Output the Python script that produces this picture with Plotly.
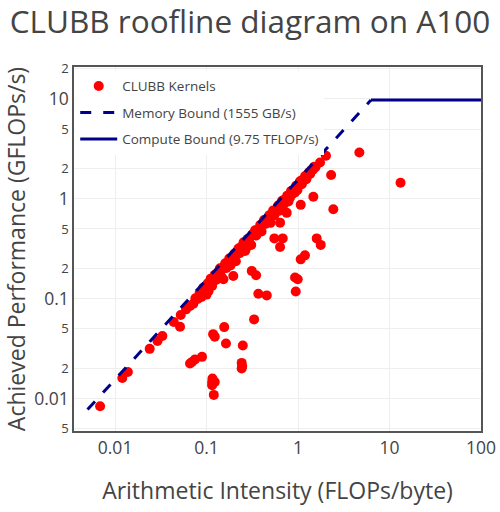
import plotly.graph_objects as go

# ---- data: kernel measurements (arithmetic intensity FLOPs/byte, performance) ----
kern_ai = [
    0.00686, 0.0120, 0.0138, 0.0239, 0.0291, 0.0329, 0.0438, 0.0513, 0.0522,
    0.0597, 0.066, 0.0717, 0.0755, 0.080, 0.084, 0.088, 0.092, 0.096, 0.100,
    0.103, 0.107, 0.111, 0.115, 0.119, 0.123, 0.127, 0.131, 0.136, 0.140,
    0.145, 0.150, 0.155, 0.160, 0.165, 0.171, 0.177, 0.183, 0.189, 0.195,
    0.202, 0.209, 0.216, 0.223, 0.230, 0.238, 0.246, 0.254, 0.262, 0.271,
    0.280, 0.289, 0.298, 0.308, 0.318, 0.328, 0.339, 0.350, 0.362, 0.374,
    0.386, 0.399, 0.412, 0.425, 0.439, 0.454, 0.469, 0.484, 0.500, 0.517,
    0.534, 0.551, 0.569, 0.588, 0.607, 0.627, 0.648, 0.669, 0.691, 0.714,
    0.737, 0.761, 0.786, 0.812, 0.838, 0.866, 0.894, 0.923, 0.953, 0.985,
    1.017, 1.050, 1.085, 1.120, 1.157, 1.195, 1.234, 1.275, 1.316, 1.360,
    1.404, 1.450, 1.500, 1.550,
    2.02, 1.74, 1.47, 1.35, 1.19, 1.10, 0.927, 0.818, 0.752,
    4.68, 2.30, 1.47, 1.07, 2.43, 0.752, 0.636, 0.551, 0.680, 0.636, 1.60,
    1.77, 1.07, 1.19, 0.312, 0.348, 0.927, 0.992, 0.368, 0.455, 0.944,
    0.331, 0.156, 0.123, 0.118, 0.163, 0.249, 0.066, 0.0693, 0.0748, 0.0892,
    0.242, 0.245, 0.242, 0.116, 0.115, 0.123, 0.115, 0.120, 13.2,
    0.264, 0.196, 0.153, 0.105, 0.268,
]
kern_perf = [
    0.00838, 0.0161, 0.01845, 0.0315, 0.0377, 0.0423, 0.0584, 0.0524, 0.0687,
    0.0783, 0.0845, 0.0891, 0.101, 0.0995, 0.115, 0.104, 0.129, 0.124, 0.110,
    0.143, 0.133, 0.159, 0.134, 0.159, 0.174, 0.154, 0.177, 0.173, 0.202,
    0.167, 0.205, 0.202, 0.226, 0.203, 0.229, 0.253, 0.216, 0.259, 0.252,
    0.283, 0.237, 0.292, 0.319, 0.286, 0.329, 0.321, 0.367, 0.314, 0.362,
    0.396, 0.364, 0.408, 0.345, 0.445, 0.434, 0.485, 0.430, 0.490, 0.483,
    0.546, 0.472, 0.564, 0.615, 0.560, 0.628, 0.620, 0.685, 0.575, 0.699,
    0.764, 0.685, 0.779, 0.768, 0.859, 0.760, 0.867, 0.957, 0.870, 0.988,
    0.974, 1.077, 0.941, 1.111, 1.199, 1.118, 1.237, 1.234, 1.349, 1.225,
    1.392, 1.502, 1.417, 1.550, 1.547, 1.691, 1.573, 1.745, 1.842, 1.798,
    1.943, 1.962, 2.099, 2.073,
    2.70, 2.31, 1.99, 1.77, 1.58, 1.40, 1.16, 1.03, 0.955,
    2.91, 1.73, 1.05, 0.871, 0.788, 0.724, 0.578, 0.402, 0.402, 0.330, 0.402,
    0.346, 0.248, 0.272, 0.190, 0.172, 0.163, 0.157, 0.112, 0.108, 0.118,
    0.0621, 0.0520, 0.0416, 0.0442, 0.0357, 0.0341, 0.0225, 0.0233, 0.0247, 0.0262,
    0.0228, 0.0211, 0.0200, 0.0159, 0.0147, 0.0147, 0.0136, 0.0109, 1.45,
    0.301, 0.169, 0.157, 0.119, 0.313,
]

# ---- roofline (A100): memory bound 1555 GB/s, compute bound 9.75 TFLOP/s ----
mem_ai = [0.005, 6.27]
mem_perf = [0.00778, 9.75]
comp_ai = [6.27, 100]
comp_perf = [9.75, 9.75]

FONT = "Open Sans"
TXT = "#444444"
NAVY = "#00008B"

fig = go.Figure()
fig.add_trace(go.Scatter(
    x=kern_ai, y=kern_perf, mode="markers", name="CLUBB Kernels",
    legendgroup="g1",
    marker=dict(color="#FF0000", size=10),
))
fig.add_trace(go.Scatter(
    x=mem_ai, y=mem_perf, mode="lines", name="Memory Bound (1555 GB/s)",
    legendgroup="g2",
    line=dict(color=NAVY, width=3, dash="11px,12px"),
))
fig.add_trace(go.Scatter(
    x=comp_ai, y=comp_perf, mode="lines", name="Compute Bound (9.75 TFLOP/s)",
    legendgroup="g3",
    line=dict(color=NAVY, width=3),
))

fig.update_layout(
    width=500, height=512,
    margin=dict(l=74, r=19, t=67, b=81, autoexpand=False),
    paper_bgcolor="white", plot_bgcolor="white",
    font=dict(family=FONT, color=TXT),
    title=dict(text="CLUBB roofline diagram on A100", x=0.5, xanchor="center",
               y=0.957, yanchor="middle", font=dict(size=31.5, family=FONT, color=TXT)),
    showlegend=True,
    legend=dict(x=0.003, y=0.99, xanchor="left", yanchor="top",
                itemwidth=37, tracegroupgap=6,
                bgcolor="white", font=dict(size=13.5, family=FONT, color=TXT)),
    xaxis=dict(
        type="log", range=[-2.449, 2.0], dtick=1,
        title=dict(text="Arithmetic Intensity (FLOPs/byte)", font=dict(size=23), standoff=25),
        tickfont=dict(size=17.5), ticklabelstandoff=0, showgrid=True, gridcolor="#eeeeee",
        showline=True, mirror=True, linecolor="#555555", linewidth=1.5,
        zeroline=False,
    ),
    yaxis=dict(
        type="log", range=[-2.324, 1.32], dtick="D2",
        title=dict(text="Achieved Performance (GFLOPs/s)", font=dict(size=23)),
        tickfont=dict(size=17.5), showgrid=True, gridcolor="#eeeeee",
        showline=True, mirror=True, linecolor="#555555", linewidth=1.5,
        zeroline=False,
    ),
)

fig.write_html("out.html")
